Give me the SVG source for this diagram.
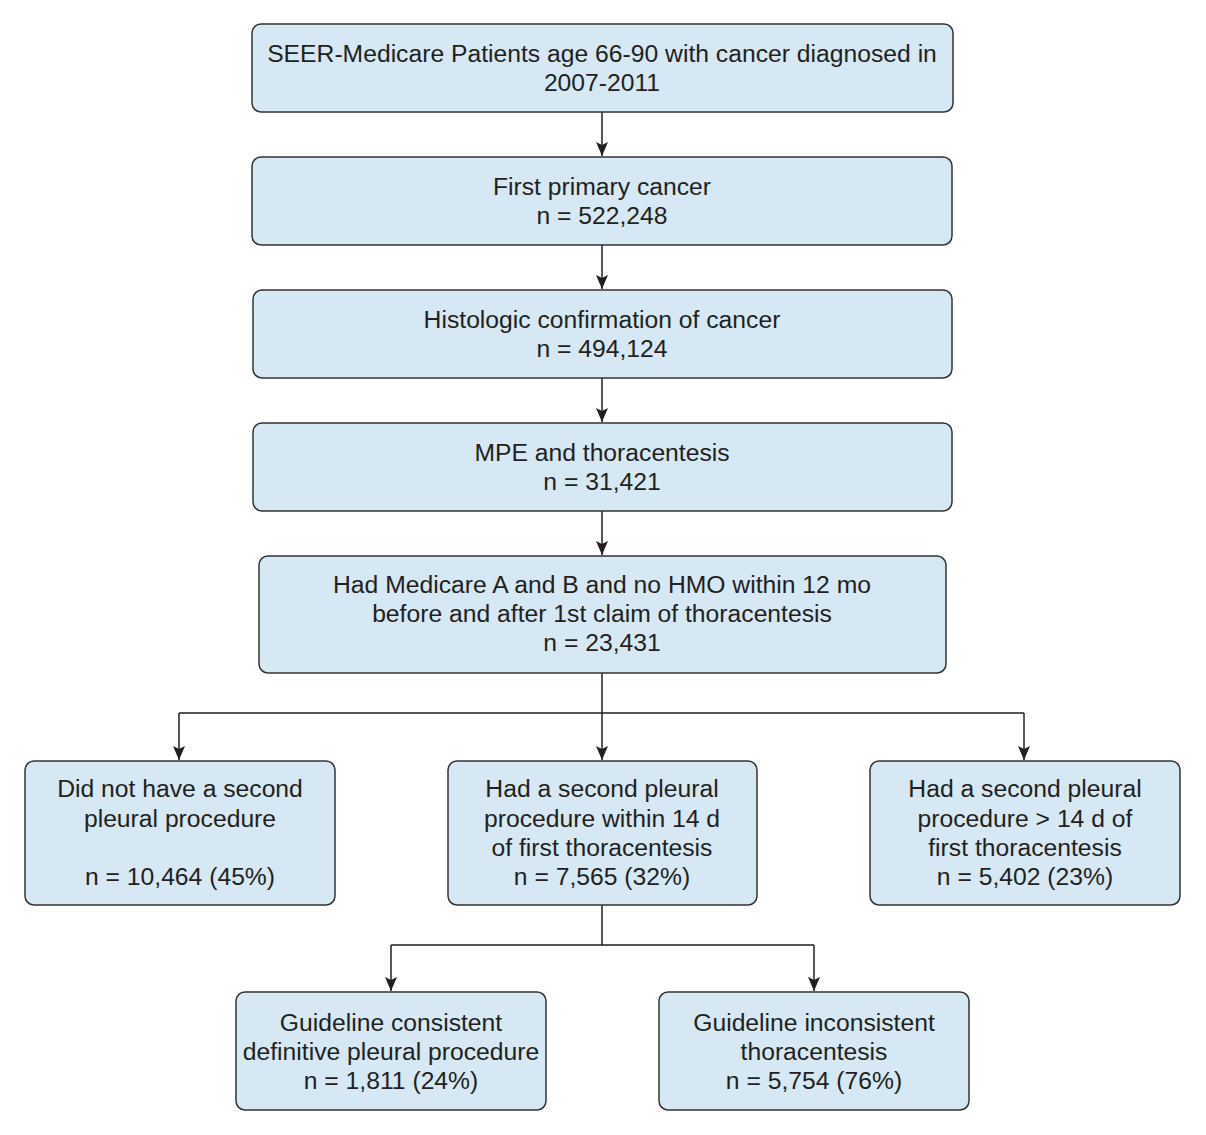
<svg xmlns="http://www.w3.org/2000/svg" width="1206" height="1135" viewBox="0 0 1206 1135">
<defs>
<marker id="ah" markerWidth="14" markerHeight="12" refX="14" refY="6" orient="auto" markerUnits="userSpaceOnUse" viewBox="0 0 14 12">
<path d="M0,0 L3,6 L0,12 L14,6 Z" fill="#231f20"/>
</marker>
<style>
.box{fill:#d5e8f3;stroke:#333;stroke-width:1.5}
.t{font-family:"Liberation Sans",Arial,sans-serif;font-size:24.7px;fill:#231f20;text-anchor:middle}
.c{fill:none;stroke:#231f20;stroke-width:1.5}
</style>
</defs>
<rect width="1206" height="1135" fill="#fff"/>
<g id="connectors">
<path class="c" d="M602,112 V156" marker-end="url(#ah)"/>
<path class="c" d="M602,245 V289" marker-end="url(#ah)"/>
<path class="c" d="M602,378 V422" marker-end="url(#ah)"/>
<path class="c" d="M602,511 V555" marker-end="url(#ah)"/>
<path class="c" d="M602,673 V760" marker-end="url(#ah)"/>
<path class="c" d="M179,713 H1024"/>
<path class="c" d="M179,713 V760" marker-end="url(#ah)"/>
<path class="c" d="M1024,713 V760" marker-end="url(#ah)"/>
<path class="c" d="M602,905 V945"/>
<path class="c" d="M391,945 H814"/>
<path class="c" d="M391,945 V991" marker-end="url(#ah)"/>
<path class="c" d="M814,945 V991" marker-end="url(#ah)"/>
</g>
<g id="n1"><rect class="box" x="252" y="24" width="701" height="88" rx="9"/>
<text class="t" x="602" y="62">SEER-Medicare Patients age 66-90 with cancer diagnosed in</text>
<text class="t" x="602" y="91">2007-2011</text></g>
<g id="n2"><rect class="box" x="252" y="157" width="700" height="88" rx="9"/>
<text class="t" x="602" y="195">First primary cancer</text>
<text class="t" x="602" y="224">n = 522,248</text></g>
<g id="n3"><rect class="box" x="253" y="290" width="699" height="88" rx="9"/>
<text class="t" x="602" y="328">Histologic confirmation of cancer</text>
<text class="t" x="602" y="357">n = 494,124</text></g>
<g id="n4"><rect class="box" x="253" y="423" width="699" height="88" rx="9"/>
<text class="t" x="602" y="461">MPE and thoracentesis</text>
<text class="t" x="602" y="490">n = 31,421</text></g>
<g id="n5"><rect class="box" x="259" y="556" width="687" height="117" rx="9"/>
<text class="t" x="602" y="593">Had Medicare A and B and no HMO within 12 mo</text>
<text class="t" x="602" y="622">before and after 1st claim of thoracentesis</text>
<text class="t" x="602" y="651">n = 23,431</text></g>
<g id="n6"><rect class="box" x="25" y="761" width="310" height="144" rx="9"/>
<text class="t" x="180" y="797">Did not have a second</text>
<text class="t" x="180" y="827">pleural procedure</text>
<text class="t" x="180" y="885">n = 10,464 (45%)</text></g>
<g id="n7"><rect class="box" x="448" y="761" width="309" height="144" rx="9"/>
<text class="t" x="602" y="797">Had a second pleural</text>
<text class="t" x="602" y="827">procedure within 14 d</text>
<text class="t" x="602" y="856">of first thoracentesis</text>
<text class="t" x="602" y="885">n = 7,565 (32%)</text></g>
<g id="n8"><rect class="box" x="870" y="761" width="310" height="144" rx="9"/>
<text class="t" x="1025" y="797">Had a second pleural</text>
<text class="t" x="1025" y="827">procedure &gt; 14 d of</text>
<text class="t" x="1025" y="856">first thoracentesis</text>
<text class="t" x="1025" y="885">n = 5,402 (23%)</text></g>
<g id="n9"><rect class="box" x="236" y="992" width="310" height="118" rx="9"/>
<text class="t" x="391" y="1031">Guideline consistent</text>
<text class="t" x="391" y="1060">definitive pleural procedure</text>
<text class="t" x="391" y="1089">n = 1,811 (24%)</text></g>
<g id="n10"><rect class="box" x="659" y="992" width="310" height="118" rx="9"/>
<text class="t" x="814" y="1031">Guideline inconsistent</text>
<text class="t" x="814" y="1060">thoracentesis</text>
<text class="t" x="814" y="1089">n = 5,754 (76%)</text></g>
</svg>
